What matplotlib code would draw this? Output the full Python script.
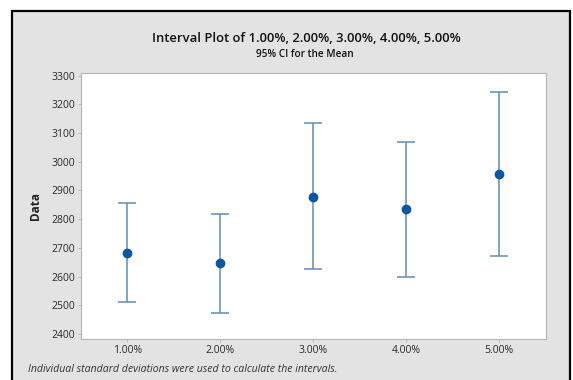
import numpy as np
import matplotlib
matplotlib.use("Agg")
import matplotlib.pyplot as plt
from matplotlib.patches import Rectangle

plt.rcParams['font.family'] = ['Open Sans', 'DejaVu Sans']

# group labels and 95% CI for the mean
groups = ["1.00%", "2.00%", "3.00%", "4.00%", "5.00%"]
means = [2684, 2647, 2878, 2835, 2959]
lower = [2511, 2475, 2625, 2600, 2671]
upper = [2856, 2818, 3134, 3070, 3244]

fig = plt.figure(figsize=(5.73, 3.80), dpi=100)
fig.patch.set_facecolor("white")

# grey panel with black frame behind everything
panel = Rectangle((12 / 573, -0.02), 558 / 573, 1 - 11 / 380 + 0.02,
                  transform=fig.transFigure, facecolor="#e3e3e3",
                  edgecolor="black", linewidth=1.6, zorder=-10)
fig.patches.append(panel)

ax = fig.add_axes([81 / 573, 1 - 339 / 380, 464.5 / 573, 265.7 / 380])
ax.set_facecolor("white")

x = np.arange(1, len(groups) + 1)
m = np.array(means)
yerr = [m - np.array(lower), np.array(upper) - m]
ax.errorbar(x, m, yerr=yerr, fmt="none", ecolor="#5e8db8",
            elinewidth=1.1, capsize=6.5, capthick=1.1, zorder=2)
ax.plot(x, m, "o", color="#0a56a0", markersize=6, zorder=3)

ax.set_xlim(0.5, 5.5)
ax.set_ylim(2383, 3308)
ax.set_xticks(x)
ax.set_xticklabels(groups)
ax.set_yticks(np.arange(2400, 3301, 100))

for s in ax.spines.values():
    s.set_color("#b5b5b5")
    s.set_linewidth(0.8)
ax.tick_params(axis="both", colors="#b5b5b5", labelcolor="#2a2a2a",
               labelsize=7.5, length=2.5, width=0.6, pad=1.5)

ax.set_ylabel("Data", fontsize=8.5, fontweight="bold", color="#222222",
              labelpad=7)

fig.text(306 / 573, 1 - 39 / 380,
         "Interval Plot of 1.00%, 2.00%, 3.00%, 4.00%, 5.00%",
         ha="center", va="center", fontsize=9.4, fontweight="semibold",
         color="#111111")
fig.text(305 / 573, 1 - 54.5 / 380, "95% CI for the Mean",
         ha="center", va="center", fontsize=7.2, fontweight="semibold",
         color="#111111")
fig.text(28 / 573, 1 - 370 / 380,
         "Individual standard deviations were used to calculate the intervals.",
         ha="left", va="center", fontsize=7.6, style="italic", color="#333333")

fig.savefig("out.png", dpi=100)
